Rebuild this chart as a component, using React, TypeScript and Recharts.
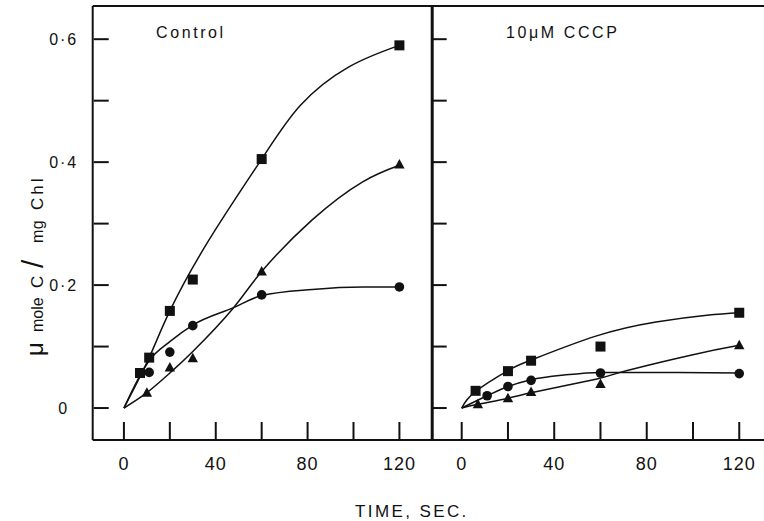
import React from 'react';
import { ComposedChart, Line, Scatter, XAxis, YAxis } from 'recharts';

// ---- axis ticks ----
const timeTicks = [0, 20, 40, 60, 80, 100, 120];
const timeLabels = [0, 40, 80, 120];
const valueTicks = [0, 0.1, 0.2, 0.3, 0.4, 0.5, 0.6];
const valueLabels = [0, 0.2, 0.4, 0.6];

// ---- Control panel: measured points ----
const controlSquares = [
  { x: 7, y: 0.057 }, { x: 11, y: 0.082 }, { x: 20, y: 0.158 },
  { x: 30, y: 0.209 }, { x: 60, y: 0.405 }, { x: 120, y: 0.59 },
];
const controlCircles = [
  { x: 11, y: 0.058 }, { x: 20, y: 0.091 }, { x: 30, y: 0.134 },
  { x: 60, y: 0.184 }, { x: 120, y: 0.197 },
];
const controlTriangles = [
  { x: 10, y: 0.025 }, { x: 20, y: 0.066 }, { x: 30, y: 0.081 },
  { x: 60, y: 0.222 }, { x: 120, y: 0.396 },
];
// ---- Control panel: hand-drawn curves ----
const controlSquareCurve = [
  { x: 0, y: 0 }, { x: 11, y: 0.082 }, { x: 20, y: 0.158 },
  { x: 37, y: 0.273 }, { x: 60, y: 0.405 }, { x: 77, y: 0.493 },
  { x: 98, y: 0.555 }, { x: 120, y: 0.59 },
];
const controlCircleCurve = [
  { x: 0, y: 0 }, { x: 6, y: 0.046 }, { x: 11, y: 0.077 }, { x: 20, y: 0.108 },
  { x: 30, y: 0.135 }, { x: 47.5, y: 0.163 }, { x: 60, y: 0.183 }, { x: 82, y: 0.193 },
  { x: 104, y: 0.197 }, { x: 120, y: 0.197 },
];
const controlTriangleCurve = [
  { x: 0, y: 0 }, { x: 10, y: 0.025 }, { x: 20, y: 0.057 }, { x: 30, y: 0.092 },
  { x: 47.5, y: 0.162 }, { x: 60, y: 0.222 }, { x: 82, y: 0.306 }, { x: 104, y: 0.368 },
  { x: 120, y: 0.395 },
];

// ---- 10 uM CCCP panel: measured points ----
const cccpSquares = [
  { x: 6, y: 0.028 }, { x: 20, y: 0.06 }, { x: 30, y: 0.077 },
  { x: 60, y: 0.1 }, { x: 120, y: 0.155 },
];
const cccpCircles = [
  { x: 11, y: 0.02 }, { x: 20, y: 0.035 }, { x: 30, y: 0.045 },
  { x: 60, y: 0.057 }, { x: 120, y: 0.056 },
];
const cccpTriangles = [
  { x: 7, y: 0.006 }, { x: 20, y: 0.016 }, { x: 30, y: 0.026 },
  { x: 60, y: 0.039 }, { x: 120, y: 0.102 },
];
// ---- 10 uM CCCP panel: hand-drawn curves ----
const cccpSquareCurve = [
  { x: 0, y: 0 }, { x: 6, y: 0.027 }, { x: 20, y: 0.061 }, { x: 30, y: 0.078 },
  { x: 58, y: 0.117 }, { x: 84, y: 0.14 }, { x: 106, y: 0.151 }, { x: 120, y: 0.155 },
];
const cccpCircleCurve = [
  { x: 0, y: 0 }, { x: 11, y: 0.02 }, { x: 20, y: 0.035 }, { x: 30, y: 0.046 },
  { x: 45, y: 0.054 }, { x: 60, y: 0.058 }, { x: 90, y: 0.058 }, { x: 120, y: 0.057 },
];
const cccpTriangleCurve = [
  { x: 0, y: 0 }, { x: 7, y: 0.006 }, { x: 20, y: 0.016 }, { x: 30, y: 0.025 },
  { x: 58, y: 0.047 }, { x: 68.5, y: 0.058 }, { x: 99, y: 0.086 }, { x: 120, y: 0.102 },
];

const INK = '#111';
const FONT = '"Liberation Sans", Arial, Helvetica, sans-serif';
const Y_DOMAIN: [number, number] = [-0.052, 0.654];

const SquareDot = (p: any) => (
  <rect x={p.cx - 5} y={p.cy - 5} width={10} height={10} fill={INK} />
);
const CircleDot = (p: any) => <circle cx={p.cx} cy={p.cy} r={4.8} fill={INK} />;
const TriangleDot = (p: any) => (
  <polygon
    points={`${p.cx},${p.cy - 5.5} ${p.cx + 5.2},${p.cy + 4} ${p.cx - 5.2},${p.cy + 4}`}
    fill={INK}
  />
);

const fmtValue = (v: number) => (v === 0 ? '0' : v.toFixed(1).replace('.', '\u00B7'));

const XTick = (props: any) => {
  const { x, y, payload } = props;
  const v = payload.value;
  return (
    <g>
      <line x1={x} x2={x} y1={y - 1} y2={y - 18} stroke={INK} strokeWidth={2} />
      {timeLabels.includes(v) && (
        <text x={x} y={y + 30} textAnchor="middle" fontFamily={FONT} fontSize={18}
          letterSpacing={1} fill={INK}>
          {v}
        </text>
      )}
    </g>
  );
};

const makeYTick = (withLabels: boolean, len: number) => (props: any) => {
  const { x, y, payload } = props;
  const v = Math.round(payload.value * 10) / 10;
  return (
    <g>
      <line x1={x + 1} x2={x + 1 + len} y1={y} y2={y} stroke={INK} strokeWidth={2} />
      {withLabels && valueLabels.includes(v) && (
        <text x={x - 29} y={y + 6} textAnchor="middle" fontFamily={FONT} fontSize={16}
          letterSpacing={2} fill={INK}>
          {fmtValue(v)}
        </text>
      )}
    </g>
  );
};

type PanelProps = {
  width: number;
  margin: { top: number; right: number; bottom: number; left: number };
  xDomain: [number, number];
  labels: boolean;
  rightBorder: boolean;
  squares: any[]; circles: any[]; triangles: any[];
  squareCurve: any[]; circleCurve: any[]; triangleCurve: any[];
};

function Panel(p: PanelProps) {
  const axisLine = { stroke: INK, strokeWidth: 2 };
  return (
    <ComposedChart width={p.width} height={521} margin={p.margin}>
      <XAxis type="number" dataKey="x" domain={p.xDomain} allowDataOverflow ticks={timeTicks}
        interval={0} height={1} tickSize={0} tickMargin={0} tickLine={false}
        axisLine={axisLine} tick={<XTick />} />
      <XAxis xAxisId="top" orientation="top" type="number" dataKey="x" domain={p.xDomain}
        allowDataOverflow height={1} tick={false} tickLine={false} axisLine={axisLine} />
      <YAxis type="number" domain={Y_DOMAIN} allowDataOverflow ticks={valueTicks} interval={0}
        width={1} tickSize={0} tickMargin={0} tickLine={false} axisLine={axisLine}
        tick={makeYTick(p.labels, p.labels ? 15 : 14)} />
      {p.rightBorder && (
        <YAxis yAxisId="right" orientation="right" type="number" domain={Y_DOMAIN}
          allowDataOverflow width={1} tick={false} tickLine={false} axisLine={axisLine} />
      )}
      <Line data={p.squareCurve} dataKey="y" type="natural" stroke={INK} strokeWidth={1.5}
        dot={false} activeDot={false} isAnimationActive={false} />
      <Line data={p.circleCurve} dataKey="y" type="monotone" stroke={INK} strokeWidth={1.5}
        dot={false} activeDot={false} isAnimationActive={false} />
      <Line data={p.triangleCurve} dataKey="y" type="natural" stroke={INK} strokeWidth={1.5}
        dot={false} activeDot={false} isAnimationActive={false} />
      <Scatter data={p.squares} dataKey="y" shape={SquareDot} isAnimationActive={false} />
      <Scatter data={p.circles} dataKey="y" shape={CircleDot} isAnimationActive={false} />
      <Scatter data={p.triangles} dataKey="y" shape={TriangleDot} isAnimationActive={false} />
    </ComposedChart>
  );
}

export default function App() {
  const yl = (s: string, y: number, size = 16, ls = 0) => (
    <text transform={`translate(43, ${y}) rotate(-90)`} fontFamily={FONT} fontSize={size}
      letterSpacing={ls} fill={INK}>
      {s}
    </text>
  );
  return (
    <div style={{ position: 'absolute', left: 0, top: 0, width: 764, height: 521, background: '#fff', overflow: 'hidden' }}>
      <div style={{ position: 'absolute', left: 0, top: 0 }}>
        <Panel width={440} margin={{ top: 5, right: 6.3, bottom: 80, left: 91.7 }}
          xDomain={[-13.6, 134.5]} labels rightBorder
          squares={controlSquares} circles={controlCircles} triangles={controlTriangles}
          squareCurve={controlSquareCurve} circleCurve={controlCircleCurve}
          triangleCurve={controlTriangleCurve} />
      </div>
      <div style={{ position: 'absolute', left: 420, top: 0 }}>
        <Panel width={344} margin={{ top: 5, right: 0, bottom: 80, left: 10.7 }}
          xDomain={[-12.97, 130.7]} labels={false} rightBorder={false}
          squares={cccpSquares} circles={cccpCircles} triangles={cccpTriangles}
          squareCurve={cccpSquareCurve} circleCurve={cccpCircleCurve}
          triangleCurve={cccpTriangleCurve} />
      </div>
      <svg width={764} height={521} style={{ position: 'absolute', left: 0, top: 0, pointerEvents: 'none' }}>
        <text x={156} y={38} fontFamily={FONT} fontSize={16} letterSpacing={2.6} fill={INK}>Control</text>
        <text x={506} y={38} fontFamily={FONT} fontSize={16} letterSpacing={2.6} fill={INK}>10μM CCCP</text>
        <text x={355} y={517} fontFamily={FONT} fontSize={17} letterSpacing={2.4} fill={INK}>TIME, SEC.</text>
        {yl('μ', 356, 24)}
        {yl('mole', 332, 16, 0)}
        {yl('C', 288, 17)}
        {yl('/', 268, 30)}
        {yl('mg', 243, 16, 0.5)}
        {yl('Chl', 210, 17, 3)}
      </svg>
    </div>
  );
}
